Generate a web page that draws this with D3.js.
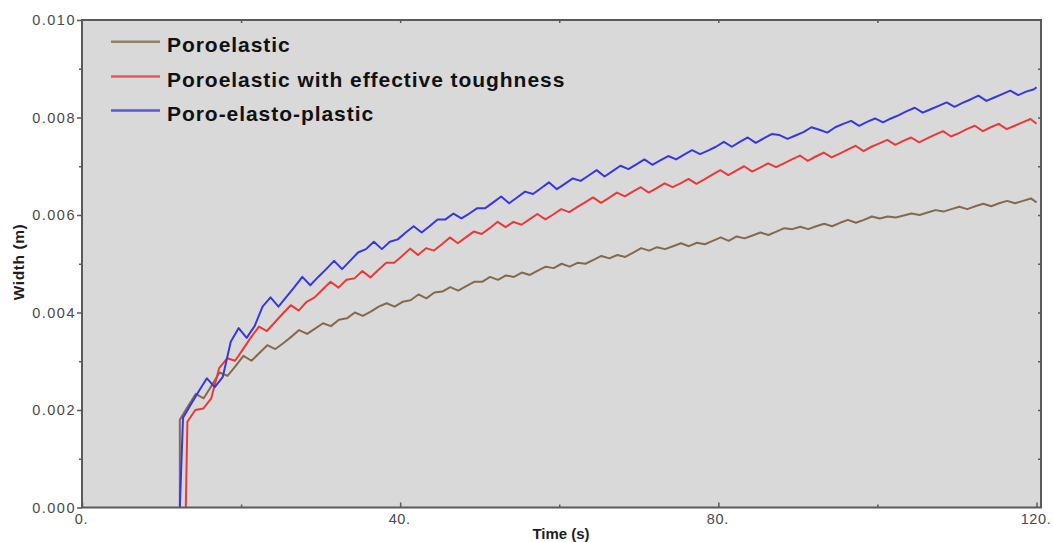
<!DOCTYPE html>
<html>
<head>
<meta charset="utf-8">
<script src="https://cdn.jsdelivr.net/npm/d3@7"></script>
<style>
  body { margin: 0; background: #ffffff; }
  svg { display: block; }
  .tick-label { font-family: "Liberation Sans", Arial, sans-serif; fill: #4a4a4a; }
</style>
</head>
<body>
<svg id="chart" width="1053" height="542"></svg>
<script>
// ---- data -----------------------------------------------------------------
const seriesNames = ["Poroelastic", "Poroelastic with effective toughness", "Poro-elasto-plastic"];
const seriesColors = ["#86694c", "#ec3838", "#3636e4"];

// time at which each fracture opens (width jumps from zero)
const onsetTimes = [12.3, 13.05, 12.3];
// first recorded output time after opening; outputs every 1 s up to endTime
const firstOutputTimes = [12.3, 13.25, 12.7];
const outputStep = 1;
const endTime = 120;

// fracture width (m) at each output time
const poroelastic = [
  0.00180, 0.00207, 0.00233, 0.00224, 0.00250, 0.00277, 0.00270, 0.00290, 0.00311, 0.00301,
  0.00317, 0.00333, 0.00325, 0.00337, 0.00350, 0.00364, 0.00356, 0.00367, 0.00378, 0.00372,
  0.00385, 0.00388, 0.00400, 0.00393, 0.00402, 0.00412, 0.00419, 0.00412, 0.00422, 0.00425,
  0.00437, 0.00429, 0.00441, 0.00443, 0.00452, 0.00445, 0.00454, 0.00463, 0.00463, 0.00473,
  0.00467, 0.00476, 0.00473, 0.00482, 0.00477, 0.00486, 0.00494, 0.00491, 0.00500, 0.00494,
  0.00502, 0.00500, 0.00508, 0.00516, 0.00511, 0.00518, 0.00514, 0.00523, 0.00532, 0.00527,
  0.00534, 0.00530, 0.00536, 0.00542, 0.00536, 0.00543, 0.00540, 0.00547, 0.00554, 0.00547,
  0.00556, 0.00552, 0.00558, 0.00564, 0.00559, 0.00566, 0.00573, 0.00571, 0.00576, 0.00571,
  0.00577, 0.00582, 0.00577, 0.00584, 0.00590, 0.00584, 0.00590, 0.00597, 0.00593, 0.00597,
  0.00595, 0.00599, 0.00603, 0.00600, 0.00605, 0.00610, 0.00607, 0.00612, 0.00617, 0.00612,
  0.00618, 0.00623, 0.00618, 0.00624, 0.00629, 0.00624, 0.00629, 0.00634, 0.00626
];
const effectiveToughness = [
  0.00176, 0.00200, 0.00203, 0.00224, 0.00286, 0.00306, 0.00301, 0.00325, 0.00349, 0.00371,
  0.00362, 0.00380, 0.00398, 0.00415, 0.00404, 0.00422, 0.00431, 0.00447, 0.00463, 0.00451,
  0.00467, 0.00470, 0.00485, 0.00472, 0.00487, 0.00502, 0.00502, 0.00516, 0.00531, 0.00518,
  0.00532, 0.00527, 0.00540, 0.00554, 0.00542, 0.00554, 0.00566, 0.00561, 0.00573, 0.00586,
  0.00575, 0.00586, 0.00580, 0.00591, 0.00602, 0.00591, 0.00601, 0.00612, 0.00606, 0.00616,
  0.00626, 0.00636, 0.00625, 0.00635, 0.00646, 0.00638, 0.00648, 0.00657, 0.00646, 0.00655,
  0.00665, 0.00657, 0.00665, 0.00674, 0.00664, 0.00673, 0.00683, 0.00692, 0.00682, 0.00691,
  0.00700, 0.00689, 0.00697, 0.00706, 0.00698, 0.00706, 0.00714, 0.00722, 0.00711, 0.00720,
  0.00728, 0.00718, 0.00726, 0.00734, 0.00742, 0.00731, 0.00740, 0.00747, 0.00754, 0.00744,
  0.00752, 0.00759, 0.00749, 0.00757, 0.00765, 0.00772, 0.00761, 0.00768, 0.00776, 0.00783,
  0.00772, 0.00780, 0.00787, 0.00776, 0.00783, 0.00790, 0.00797, 0.00787
];
const poroElastoPlastic = [
  0.00184, 0.00212, 0.00239, 0.00265, 0.00247, 0.00268, 0.00340, 0.00368, 0.00348, 0.00372,
  0.00412, 0.00431, 0.00412, 0.00432, 0.00452, 0.00473, 0.00456, 0.00473, 0.00489, 0.00506,
  0.00489, 0.00506, 0.00523, 0.00530, 0.00545, 0.00530, 0.00545, 0.00550, 0.00564, 0.00577,
  0.00564, 0.00577, 0.00591, 0.00591, 0.00603, 0.00593, 0.00603, 0.00614, 0.00614, 0.00626,
  0.00638, 0.00624, 0.00636, 0.00648, 0.00643, 0.00655, 0.00667, 0.00653, 0.00664, 0.00675,
  0.00670, 0.00681, 0.00692, 0.00679, 0.00690, 0.00701, 0.00694, 0.00704, 0.00714, 0.00703,
  0.00712, 0.00721, 0.00714, 0.00724, 0.00733, 0.00725, 0.00732, 0.00740, 0.00750, 0.00740,
  0.00750, 0.00759, 0.00748, 0.00757, 0.00766, 0.00764, 0.00756, 0.00763, 0.00770, 0.00780,
  0.00775, 0.00769, 0.00780, 0.00787, 0.00793, 0.00783, 0.00791, 0.00798, 0.00790, 0.00798,
  0.00805, 0.00813, 0.00820, 0.00810, 0.00817, 0.00824, 0.00831, 0.00822, 0.00830, 0.00837,
  0.00845, 0.00834, 0.00841, 0.00848, 0.00855, 0.00846, 0.00853, 0.00858, 0.00862
];
const seriesValues = [poroelastic, effectiveToughness, poroElastoPlastic];

const xTicks = [0, 40, 80, 120];
const xTickLabels = ["0.", "40.", "80.", "120."];
const xMinorTicks = [20, 60, 100];
const yTicks = [0, 0.002, 0.004, 0.006, 0.008, 0.010];
const yTickLabels = ["0.000", "0.002", "0.004", "0.006", "0.008", "0.010"];
const yMinorTicks = [0.001, 0.003, 0.005, 0.007, 0.009];

// ---- layout ---------------------------------------------------------------
const svg = d3.select("#chart");
const frame = { left: 82, right: 1041, top: 20, bottom: 507.5 };

const x = d3.scaleLinear().domain([0, 120]).range([frame.left, 1036.5]);
const y = d3.scaleLinear().domain([0, 0.010]).range([frame.bottom, frame.top]);

// plot background
svg.append("rect")
  .attr("x", frame.left).attr("y", frame.top)
  .attr("width", frame.right - frame.left).attr("height", frame.bottom - frame.top)
  .attr("fill", "#d9d9d9");

svg.append("clipPath").attr("id", "plot-clip")
  .append("rect")
  .attr("x", frame.left).attr("y", frame.top)
  .attr("width", frame.right - frame.left).attr("height", frame.bottom - frame.top);

// ---- curves ---------------------------------------------------------------
const line = d3.line().x(d => x(d[0])).y(d => y(d[1]));

seriesValues.forEach((values, i) => {
  const times = d3.range(firstOutputTimes[i], endTime, outputStep).concat([endTime]);
  const pts = [[onsetTimes[i], 0]].concat(values.map((v, k) => [times[k], v]));
  svg.append("path")
    .datum(pts)
    .attr("clip-path", "url(#plot-clip)")
    .attr("fill", "none")
    .attr("stroke", seriesColors[i])
    .attr("stroke-width", 2)
    .attr("stroke-linejoin", "round")
    .attr("d", line);
});

// ---- axes -----------------------------------------------------------------
const axisColor = "#5a5a5a";

function styleAxis(g) {
  g.select(".domain").remove();
  g.selectAll(".tick line").attr("stroke", axisColor).attr("stroke-width", 1.5);
  g.selectAll(".tick text")
    .attr("class", "tick-label")
    .style("font-family", "'Liberation Sans', Arial, sans-serif")
    .attr("fill", "#4a4a4a");
}

// left: labelled ticks outward, minor ticks short
svg.append("g").attr("transform", `translate(${frame.left},0)`)
  .call(d3.axisLeft(y).tickValues(yTicks).tickFormat((d, i) => yTickLabels[i])
    .tickSize(5).tickPadding(1))
  .call(styleAxis)
  .call(g => g.selectAll(".tick text")
    .style("font-size", "14.5px").style("letter-spacing", "1.5px"));

svg.append("g").attr("transform", `translate(${frame.left},0)`)
  .call(d3.axisLeft(y).tickValues(yMinorTicks).tickFormat("").tickSize(3))
  .call(styleAxis);

// bottom: ticks point into the plot
svg.append("g").attr("transform", `translate(0,${frame.bottom})`)
  .call(d3.axisBottom(x).tickValues(xTicks).tickFormat((d, i) => xTickLabels[i])
    .tickSize(-5).tickPadding(6))
  .call(styleAxis)
  .call(g => g.selectAll(".tick text")
    .style("font-size", "14.5px").style("letter-spacing", "0.6px")
    .attr("dx", "-1"));

svg.append("g").attr("transform", `translate(0,${frame.bottom})`)
  .call(d3.axisBottom(x).tickValues(xMinorTicks).tickFormat("").tickSize(-3))
  .call(styleAxis);

// top and right: unlabelled inward ticks
svg.append("g").attr("transform", `translate(0,${frame.top})`)
  .call(d3.axisTop(x).tickValues(xMinorTicks.concat(xTicks.slice(1, 3))).tickFormat("").tickSize(-3))
  .call(styleAxis);

svg.append("g").attr("transform", `translate(${frame.right},0)`)
  .call(d3.axisRight(y).tickValues(yMinorTicks.concat(yTicks.slice(1, 5))).tickFormat("").tickSize(-3))
  .call(styleAxis);

// frame
svg.append("rect")
  .attr("x", frame.left).attr("y", frame.top)
  .attr("width", frame.right - frame.left).attr("height", frame.bottom - frame.top)
  .attr("fill", "none").attr("stroke", axisColor).attr("stroke-width", 2);

// axis titles
svg.append("text")
  .attr("x", 561).attr("y", 539)
  .attr("text-anchor", "middle")
  .style("font-family", "'Liberation Sans', Arial, sans-serif")
  .style("font-weight", "bold").style("font-size", "15px")
  .attr("fill", "#1e1e1e")
  .text("Time (s)");

svg.append("text")
  .attr("transform", "translate(24,262) rotate(-90)")
  .attr("text-anchor", "middle")
  .style("font-family", "'Liberation Sans', Arial, sans-serif")
  .style("font-weight", "bold").style("font-size", "15.5px")
  .style("letter-spacing", "0.6px")
  .attr("fill", "#1e1e1e")
  .text("Width (m)");

// ---- legend ---------------------------------------------------------------
const legendRowY = [41.7, 76.5, 110.5];
const legend = svg.append("g");
seriesNames.forEach((name, i) => {
  legend.append("line")
    .attr("x1", 111).attr("x2", 160)
    .attr("y1", legendRowY[i]).attr("y2", legendRowY[i])
    .attr("stroke", seriesColors[i]).attr("stroke-opacity", 0.8)
    .attr("stroke-width", 2.5);
  legend.append("text")
    .attr("x", 167).attr("y", legendRowY[i] + 10)
    .style("font-family", "'Liberation Sans', Arial, sans-serif")
    .style("font-weight", "bold").style("font-size", "21px")
    .style("letter-spacing", "0.95px")
    .attr("fill", "#111111")
    .text(name);
});
</script>
</body>
</html>
